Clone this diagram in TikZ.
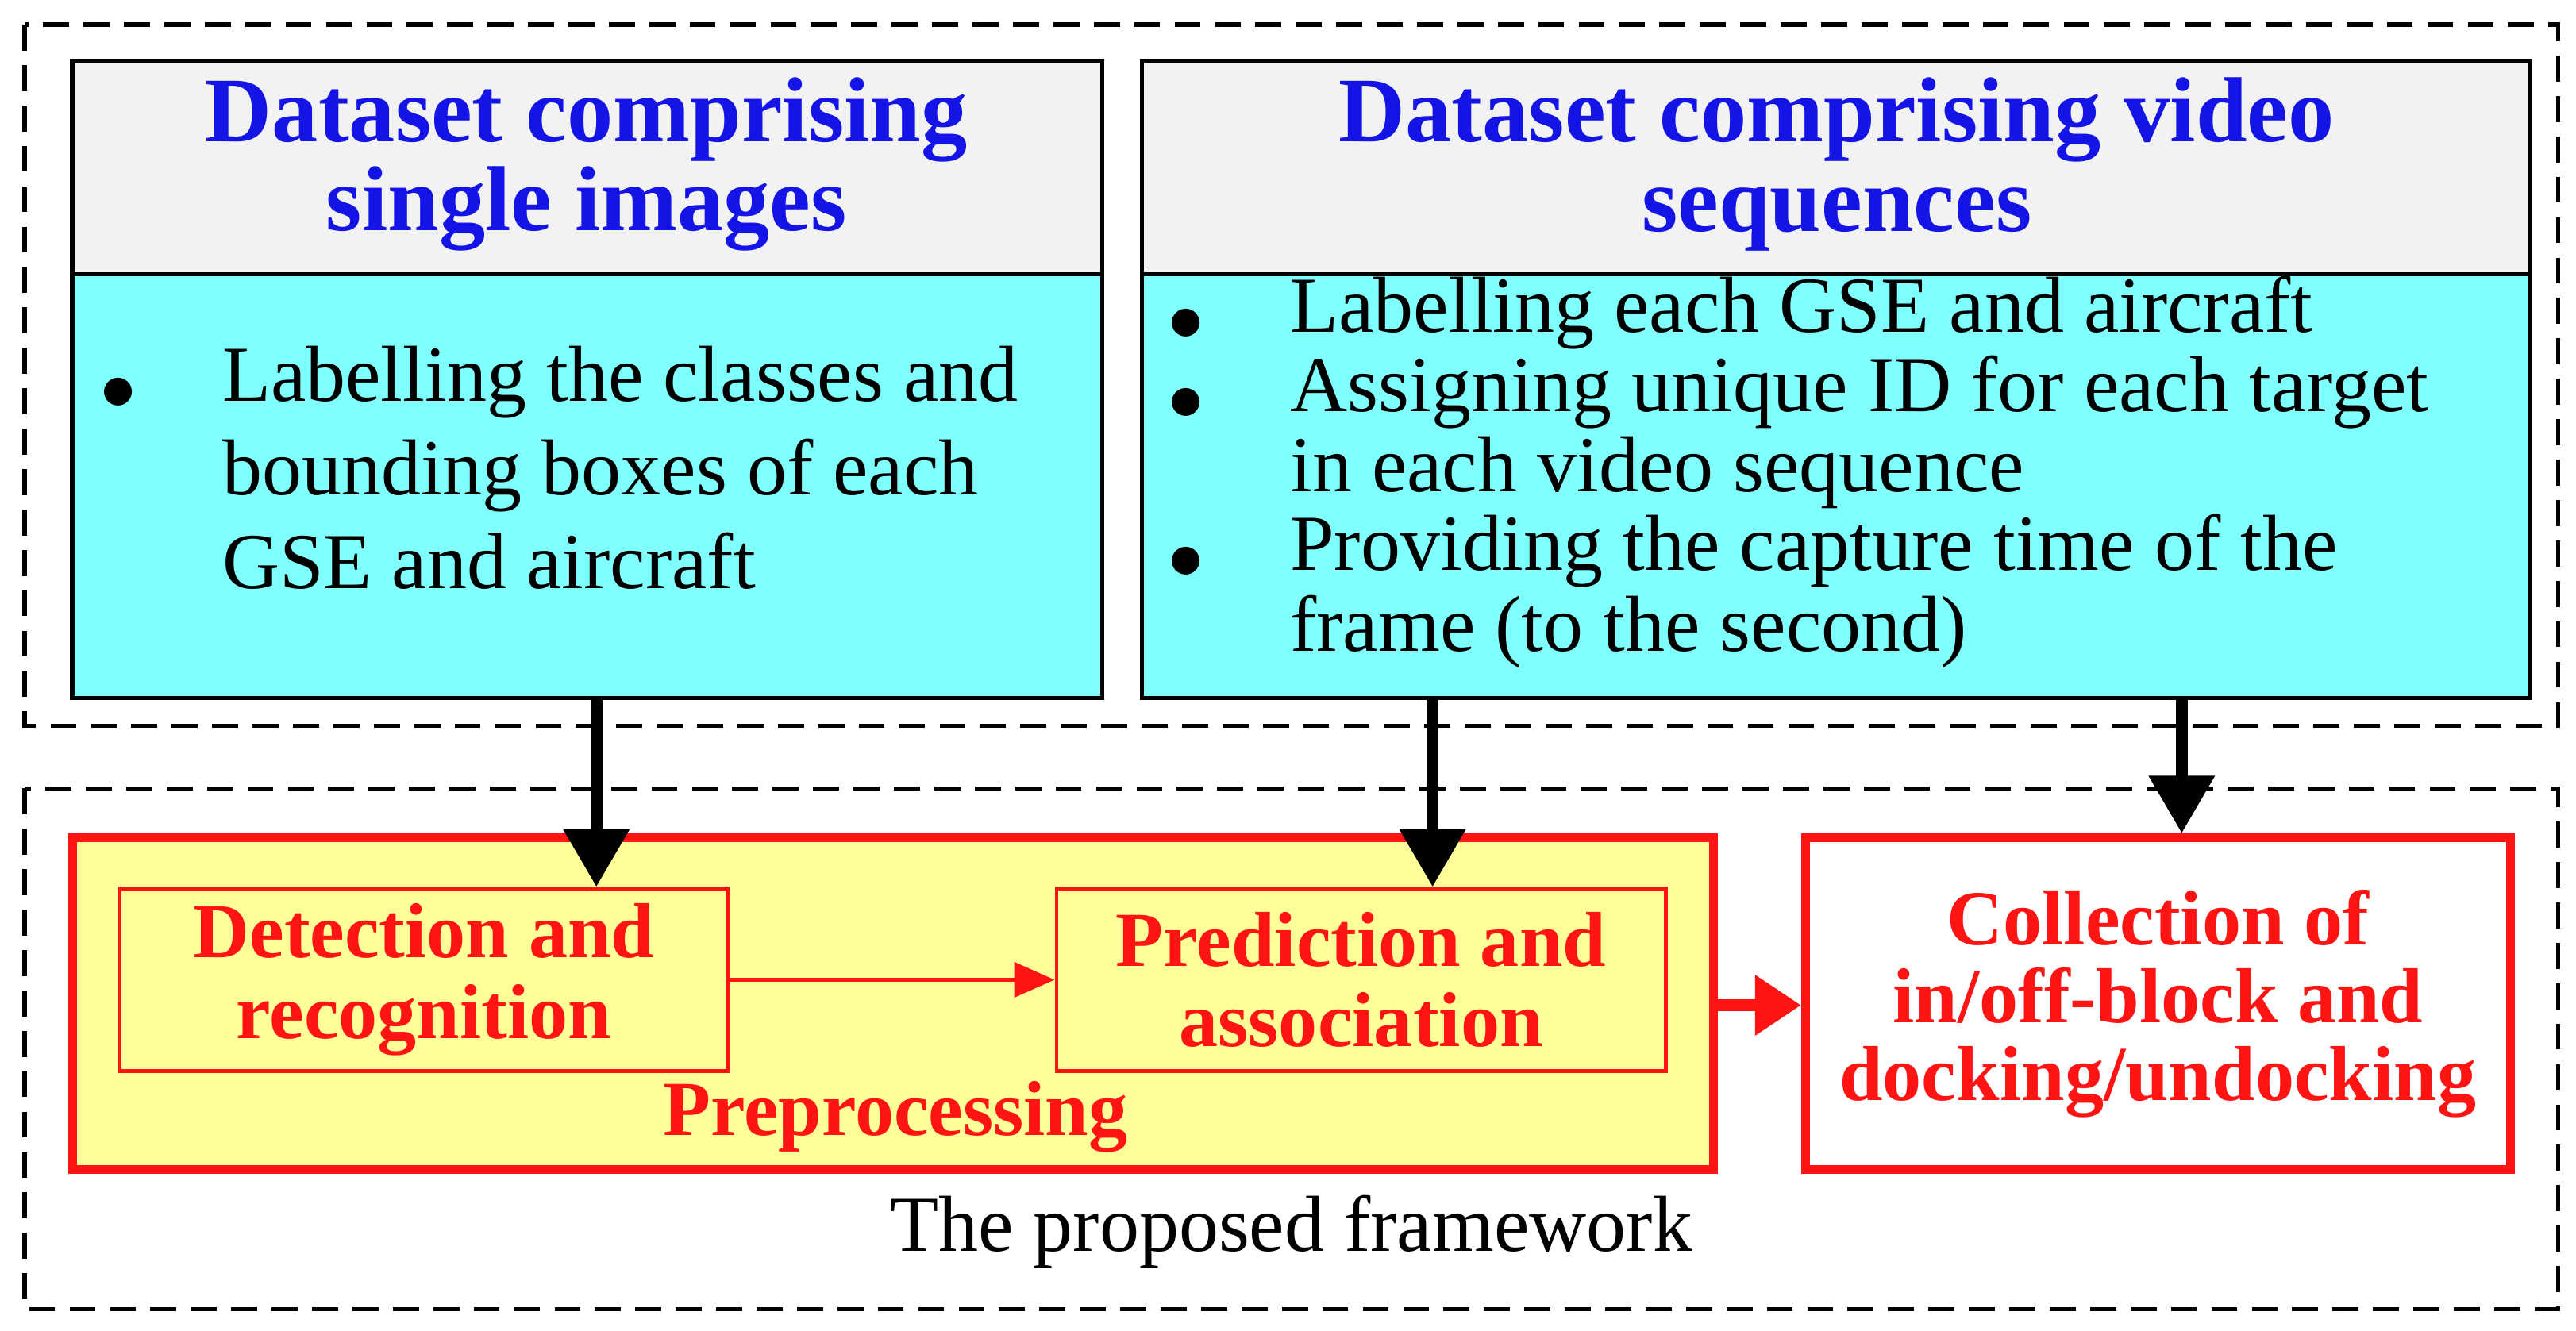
\documentclass[tikz,border=0pt]{standalone}
\usepackage{fontspec}
\setmainfont{Liberation Serif}
\usetikzlibrary{arrows.meta}
\definecolor{tblue}{RGB}{20,20,230}
\definecolor{cyanf}{RGB}{128,255,255}
\definecolor{grayf}{RGB}{242,242,242}
\definecolor{yelf}{RGB}{255,255,153}
\definecolor{tred}{RGB}{255,20,20}
\begin{document}
\begin{tikzpicture}[x=0.02cm,y=-0.02cm,
 dbox/.style={draw=black,line width=1.5pt,dash pattern=on 9pt off 5pt},
 box/.style={draw=black,line width=1.5pt},
 head/.style={font=\fontsize{32}{31}\selectfont\bfseries,text=tblue,align=center},
 ln/.style={font=\fontsize{27.5}{30}\selectfont,anchor=west,text height=0.7em,text depth=0.2em,inner sep=0},
 bul/.style={font=\fontsize{27.5}{30}\selectfont,inner sep=0},
 rbox/.style={draw=tred,line width=1.2pt},
 rtext/.style={font=\fontsize{27}{28}\selectfont\bfseries,text=tred,align=center},
 barrow/.style={line width=4pt,-{Triangle[length=20pt,width=22pt]}},
]
\useasboundingbox (0,0) rectangle (1568,810);
\draw[dbox] (15,15) rectangle (1557,442);
\draw[dbox] (15,480) rectangle (1557,797);
% left dataset
\fill[grayf] (44,37) rectangle (671,167);
\fill[cyanf] (44,167) rectangle (671,425);
\draw[box] (44,37) rectangle (671,425);
\draw[box] (44,167) -- (671,167);
\node[head] (Lh) at (357,100) {Dataset comprising\\single images};
\node[bul] (Lb) at (72,240) {$\bullet$};
\node[ln] (L1) at (135,240) {Labelling the classes and};
\node[ln] (L2) at (135,297) {bounding boxes of each};
\node[ln] (L3) at (135,354) {GSE and aircraft};
% right dataset
\fill[grayf] (695,37) rectangle (1540,167);
\fill[cyanf] (695,167) rectangle (1540,425);
\draw[box] (695,37) rectangle (1540,425);
\draw[box] (695,167) -- (1540,167);
\node[head] (Rh) at (1118,100) {Dataset comprising video\\sequences};
\node[bul] (Rb1) at (722,198) {$\bullet$};
\node[bul] (Rb2) at (722,246) {$\bullet$};
\node[bul] (Rb3) at (722,343) {$\bullet$};
\node[ln] (R1) at (785,198) {Labelling each GSE and aircraft};
\node[ln] (R2) at (785,246) {Assigning unique ID for each target};
\node[ln] (R3) at (785,295) {in each video sequence};
\node[ln] (R4) at (785,343) {Providing the capture time of the};
\node[ln] (R5) at (785,392) {frame (to the second)};
% framework
\draw[draw=tred,line width=3pt,fill=yelf] (44,510) rectangle (1043,712);
\node[rbox,minimum width=370*0.02cm,minimum height=111*0.02cm,rtext] (D) at (258,596.5) {Detection and\\recognition};
\node[rbox,minimum width=371*0.02cm,minimum height=111*0.02cm,rtext] (P) at (828.5,596.5) {Prediction and\\association};
\node[rtext] (pre) at (545,680) {Preprocessing};
\node[draw=tred,line width=3pt,fill=white,minimum width=429*0.02cm,minimum height=202*0.02cm,rtext,font=\fontsize{27}{27}\selectfont\bfseries] (C) at (1313.5,611) {Collection of\\in/off-block and\\docking/undocking};
\node[font=\fontsize{27.5}{30}\selectfont] (fw) at (786,750) {The proposed framework};
\coordinate (ys) at (1043,612);
\coordinate (a1) at (363,425);
\coordinate (a2) at (872,425);
\coordinate (a3) at (1328,425);
\draw[barrow] (a1) -- (D.north -| a1);
\draw[barrow] (a2) -- (P.north -| a2);
\draw[barrow] (a3) -- (C.north -| a3);
\draw[draw=tred,line width=1.5pt,-{Triangle[length=14pt,width=12pt]}] (D) -- (P);
\draw[draw=tred,line width=4pt,-{Triangle[length=16pt,width=20pt]}] (ys) -- (C.west |- ys);
\end{tikzpicture}
\end{document}
